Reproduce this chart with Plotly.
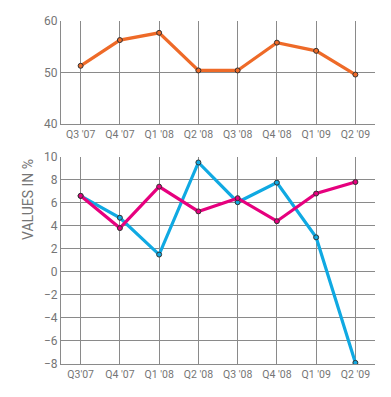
import plotly.graph_objects as go

categories = ["Q3 '07", "Q4 '07", "Q1 '08", "Q2 '08", "Q3 '08", "Q4 '08", "Q1 '09", "Q2 '09"]
top_tick_labels = ["Q3 '07", "Q4 '07", "Q1 '08", "Q2 '08", "Q3 '08", "Q4 '08", "Q1 '09", "Q2 '09"]
bottom_tick_labels = ["Q3'07", "Q4 '07", "Q1 '08", "Q2 '08", "Q3 '08", "Q4 '08", "Q1 '09", "Q2 '09"]

orange_values = [51.3, 56.3, 57.7, 50.4, 50.4, 55.8, 54.2, 49.6]
magenta_values = [6.6, 3.8, 7.4, 5.25, 6.4, 4.4, 6.8, 7.8]
cyan_values = [6.6, 4.7, 1.5, 9.5, 6.05, 7.75, 3.0, -7.9]

W, H = 391, 397
L, R, T, B = 61, 16, 21, 33
PW, PH = W - L - R, H - T - B
grid = "#8a8a8a"
tickc = "#757575"
font = "Roboto"

fig = go.Figure()

def add(vals, color, xa, ya):
    fig.add_trace(go.Scatter(
        x=categories, y=vals, xaxis=xa, yaxis=ya, mode="lines+markers",
        line=dict(color=color, width=3.2),
        marker=dict(size=5, color=color, line=dict(color="#333333", width=1)),
        showlegend=False, hoverinfo="skip"))

add(orange_values, "#EE6A28", "x", "y")
add(cyan_values, "#10A9E2", "x2", "y2")
add(magenta_values, "#E6007E", "x2", "y2")

def ypx(p):
    return 1 - (p - T) / PH

common_x = dict(domain=[0, 1], range=[-0.5, 7.5], showgrid=True, gridcolor=grid, gridwidth=1,
                showline=True, linecolor=grid, linewidth=1.2, zeroline=False,
                tickmode="array", tickvals=categories, automargin=False,
                tickfont=dict(family=font, size=10.5, color=tickc), ticks="", fixedrange=True)
common_y = dict(showgrid=True, gridcolor=grid, gridwidth=1, showline=True, linecolor=grid,
                linewidth=1.2, zeroline=False, ticks="", automargin=False,
                tickfont=dict(family=font, size=12, color=tickc), fixedrange=True)

fig.update_layout(
    width=W, height=H, margin=dict(l=L, r=R, t=T, b=B, pad=0), autosize=False,
    paper_bgcolor="white", plot_bgcolor="white",
    xaxis=dict(common_x, anchor="y", ticktext=top_tick_labels),
    yaxis=dict(common_y, domain=[ypx(124), 1], range=[40, 60],
               tickvals=[40, 50, 60], anchor="x"),
    xaxis2=dict(common_x, anchor="y2", ticktext=bottom_tick_labels),
    yaxis2=dict(common_y, domain=[0, ypx(156.7)], range=[-8, 10],
                tickvals=list(range(-8, 11, 2)), anchor="x2"),
    annotations=[dict(text="VALUES IN %", x=(18 - L) / PW, y=ypx(200), xref="paper", yref="paper",
                      textangle=-90, showarrow=False,
                      font=dict(family=font, size=14, color=tickc))],
)

fig.write_html("out.html", config={"displayModeBar": False},
               post_script="document.body.style.margin='0';document.body.style.overflow='hidden';")
